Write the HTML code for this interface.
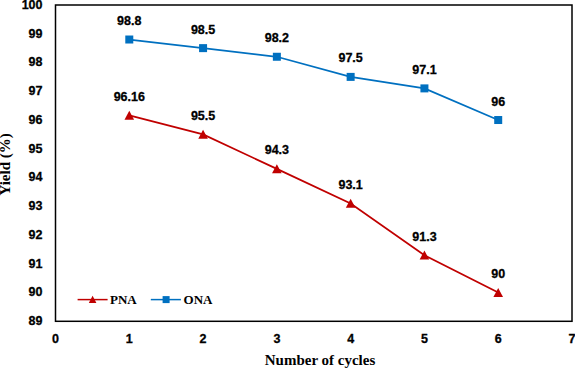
<!DOCTYPE html>
<html><head><meta charset="utf-8"><style>
html,body{margin:0;padding:0;background:#fff;width:575px;height:368px;overflow:hidden}
svg{display:block}
.t{font-family:"Liberation Sans",sans-serif;font-weight:bold;font-size:12.5px;fill:#000;stroke:#000;stroke-width:0.3px}
.s{font-family:"Liberation Serif",serif;font-weight:bold;font-size:15px;fill:#000}
.l{font-size:13px}
</style></head><body>
<svg width="575" height="368" viewBox="0 0 575 368">
<rect x="55.5" y="5.0" width="516.5" height="316.3" fill="none" stroke="#000" stroke-width="1.5"/>
<text x="42.5" y="325.10" text-anchor="end" class="t">89</text>
<text x="42.5" y="296.35" text-anchor="end" class="t">90</text>
<text x="42.5" y="267.59" text-anchor="end" class="t">91</text>
<text x="42.5" y="238.84" text-anchor="end" class="t">92</text>
<text x="42.5" y="210.08" text-anchor="end" class="t">93</text>
<text x="42.5" y="181.33" text-anchor="end" class="t">94</text>
<text x="42.5" y="152.57" text-anchor="end" class="t">95</text>
<text x="42.5" y="123.82" text-anchor="end" class="t">96</text>
<text x="42.5" y="95.06" text-anchor="end" class="t">97</text>
<text x="42.5" y="66.31" text-anchor="end" class="t">98</text>
<text x="42.5" y="37.55" text-anchor="end" class="t">99</text>
<text x="42.5" y="8.80" text-anchor="end" class="t">100</text>
<text x="55.50" y="343" text-anchor="middle" class="t">0</text>
<text x="129.29" y="343" text-anchor="middle" class="t">1</text>
<text x="203.07" y="343" text-anchor="middle" class="t">2</text>
<text x="276.86" y="343" text-anchor="middle" class="t">3</text>
<text x="350.64" y="343" text-anchor="middle" class="t">4</text>
<text x="424.43" y="343" text-anchor="middle" class="t">5</text>
<text x="498.21" y="343" text-anchor="middle" class="t">6</text>
<text x="572.00" y="343" text-anchor="middle" class="t">7</text>
<polyline points="129.29,39.51 203.07,48.13 276.86,56.76 350.64,76.89 424.43,88.39 498.21,120.02" fill="none" stroke="#0070C0" stroke-width="1.75"/>
<polyline points="129.29,115.42 203.07,134.40 276.86,168.90 350.64,203.41 424.43,255.16 498.21,292.55" fill="none" stroke="#C00000" stroke-width="1.75"/>
<rect x="125.29" y="35.51" width="8" height="8" fill="#0070C0"/>
<text x="129.29" y="25.01" text-anchor="middle" class="t">98.8</text>
<rect x="199.07" y="44.13" width="8" height="8" fill="#0070C0"/>
<text x="203.07" y="33.63" text-anchor="middle" class="t">98.5</text>
<rect x="272.86" y="52.76" width="8" height="8" fill="#0070C0"/>
<text x="276.86" y="42.26" text-anchor="middle" class="t">98.2</text>
<rect x="346.64" y="72.89" width="8" height="8" fill="#0070C0"/>
<text x="350.64" y="62.39" text-anchor="middle" class="t">97.5</text>
<rect x="420.43" y="84.39" width="8" height="8" fill="#0070C0"/>
<text x="424.43" y="73.89" text-anchor="middle" class="t">97.1</text>
<rect x="494.21" y="116.02" width="8" height="8" fill="#0070C0"/>
<text x="498.21" y="105.52" text-anchor="middle" class="t">96</text>
<path d="M129.29,110.82 L134.09,119.82 L124.49,119.82 Z" fill="#C00000"/>
<text x="129.29" y="100.92" text-anchor="middle" class="t">96.16</text>
<path d="M203.07,129.80 L207.87,138.80 L198.27,138.80 Z" fill="#C00000"/>
<text x="203.07" y="119.90" text-anchor="middle" class="t">95.5</text>
<path d="M276.86,164.30 L281.66,173.30 L272.06,173.30 Z" fill="#C00000"/>
<text x="276.86" y="154.40" text-anchor="middle" class="t">94.3</text>
<path d="M350.64,198.81 L355.44,207.81 L345.84,207.81 Z" fill="#C00000"/>
<text x="350.64" y="188.91" text-anchor="middle" class="t">93.1</text>
<path d="M424.43,250.56 L429.23,259.56 L419.63,259.56 Z" fill="#C00000"/>
<text x="424.43" y="240.66" text-anchor="middle" class="t">91.3</text>
<path d="M498.21,287.95 L503.01,296.95 L493.41,296.95 Z" fill="#C00000"/>
<text x="498.21" y="278.05" text-anchor="middle" class="t">90</text>
<line x1="77.6" y1="299.6" x2="107.6" y2="299.6" stroke="#C00000" stroke-width="1.5"/>
<path d="M92.6,295.8 L96.4,303.0 L88.8,303.0 Z" fill="#C00000"/>
<text x="110" y="303.6" class="s l">PNA</text>
<line x1="150.8" y1="299.6" x2="180.9" y2="299.6" stroke="#0070C0" stroke-width="1.5"/>
<rect x="162.6" y="296.1" width="7" height="7" fill="#0070C0"/>
<text x="183.6" y="303.6" class="s l">ONA</text>
<text x="320" y="364.7" text-anchor="middle" class="s">Number of cycles</text>
<text transform="translate(10.2,164.4) rotate(-90)" text-anchor="middle" class="s">Yield (%)</text>
</svg>
</body></html>
